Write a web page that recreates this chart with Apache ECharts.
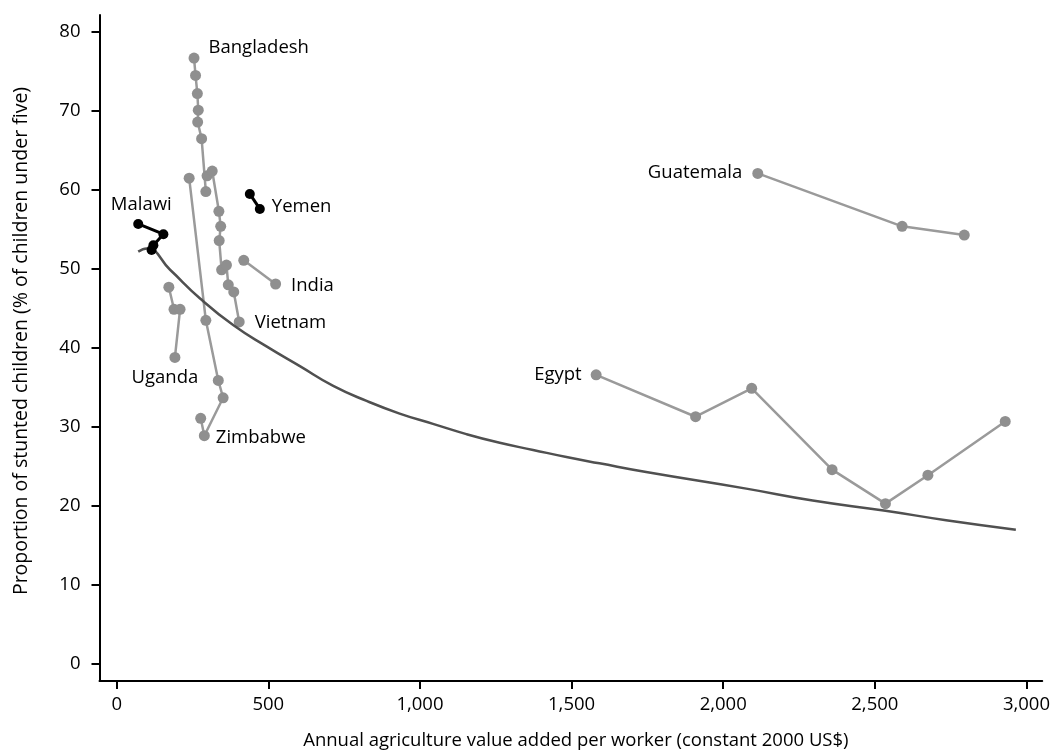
<!DOCTYPE html>
<html>
<head>
<meta charset="utf-8">
<script src="https://cdn.jsdelivr.net/npm/echarts@6/dist/echarts.min.js"></script>
<style>
  html, body { margin: 0; padding: 0; background: #fff; }
  #chart { width: 1053px; height: 756px; }
</style>
</head>
<body>
<div id="chart"></div>
<script>
// Stunting vs. agricultural productivity, country trajectories over time
const xTicks = [0, 500, 1000, 1500, 2000, 2500, 3000];
const yTicks = [0, 10, 20, 30, 40, 50, 60, 70, 80];

const bangladesh = [[255, 76.7], [260, 74.5], [266, 72.2], [269, 70.1], [267, 68.6], [280, 66.5], [294, 59.8]];
const vietnam = [[298, 61.8], [315, 62.4], [337, 57.3], [343, 55.4], [338, 53.6], [346, 49.9], [362, 50.5], [368, 48.0], [386, 47.1], [404, 43.3]];
const india = [[419, 51.1], [524, 48.1]];
const uganda = [[172, 47.7], [189, 44.9], [209, 44.9], [192, 38.8]];
const zimbabwe = [[239, 61.5], [294, 43.5], [335, 35.9], [351, 33.7], [289, 28.9], [277, 31.1]];
const guatemala = [[2114, 62.1], [2590, 55.4], [2795, 54.3]];
const egypt = [[1581, 36.6], [1909, 31.3], [2094, 34.9], [2359, 24.6], [2535, 20.3], [2675, 23.9], [2930, 30.7]];
const malawi = [[71, 55.7], [154, 54.4], [121, 53.0], [115, 52.4]];
const yemen = [[439, 59.5], [472, 57.6]];

// fitted relationship across all observations
const trendLine = [[71, 52.2], [99, 52.6], [176, 49.9], [274, 46.3], [384, 42.9], [494, 40.2], [604, 37.7],
  [714, 35.2], [824, 33.3], [933, 31.7], [1043, 30.4], [1153, 29.1], [1263, 28.0], [1373, 27.1],
  [1483, 26.2], [1592, 25.4], [1746, 24.3], [2076, 22.2], [2295, 20.7], [2535, 19.4], [2735, 18.2], [2965, 17.0]];

const FONT = 'Open Sans';
const FS = 18.5;
const GRAY_LINE = '#9a9a9a';
const GRAY_DOT = '#8f8f8f';

function countrySeries(name, data, labelIdx, pos, offset, dark) {
  return {
    name: name,
    type: 'line',
    z: dark ? 4 : 2,
    symbol: 'circle',
    symbolSize: dark ? 10 : 11,
    itemStyle: { color: dark ? '#000' : GRAY_DOT },
    lineStyle: { color: dark ? '#000' : GRAY_LINE, width: dark ? 3 : 2.5 },
    emphasis: { disabled: true },
    data: data.map((p, i) => i === labelIdx ? {
      value: p,
      label: {
        show: true, formatter: name, position: pos, offset: offset, distance: 5,
        color: '#000', fontFamily: FONT, fontSize: FS
      }
    } : { value: p })
  };
}

const chart = echarts.init(document.getElementById('chart'), null, { renderer: 'canvas' });
chart.setOption({
  animation: false,
  backgroundColor: '#fff',
  grid: { left: 99.5, right: 10, top: 15, bottom: 75 },
  xAxis: {
    type: 'value',
    min: -56.7, max: 3052,
    name: 'Annual agriculture value added per worker (constant 2000 US$)',
    nameLocation: 'middle', nameGap: 50,
    nameTextStyle: { fontFamily: FONT, fontSize: FS, color: '#000', padding: [0, 0, 0, 10] },
    axisLine: { onZero: false, lineStyle: { color: '#000', width: 2 } },
    axisTick: { customValues: xTicks, length: 8, lineStyle: { color: '#000', width: 2 } },
    axisLabel: {
      customValues: xTicks, margin: 14, color: '#000', fontFamily: FONT, fontSize: FS,
      formatter: v => v.toLocaleString('en-US')
    },
    splitLine: { show: false }
  },
  yAxis: {
    type: 'value',
    min: -2.15, max: 82.15,
    name: 'Proportion of stunted children (% of children under five)',
    nameLocation: 'middle', nameGap: 68,
    nameTextStyle: { fontFamily: FONT, fontSize: 19.5, color: '#000', padding: [0, 0, 0, 14] },
    axisLine: { onZero: false, lineStyle: { color: '#000', width: 2 } },
    axisTick: { customValues: yTicks, length: 8, lineStyle: { color: '#000', width: 2 } },
    axisLabel: { customValues: yTicks, margin: 19, color: '#000', fontFamily: FONT, fontSize: FS },
    splitLine: { show: false }
  },
  series: [
    countrySeries('Bangladesh', bangladesh, 0, 'right', [4, -10], false),
    countrySeries('Vietnam', vietnam, vietnam.length - 1, 'right', [5, 1], false),
    countrySeries('India', india, 1, 'right', [5, 2], false),
    countrySeries('Uganda', uganda, 3, 'bottom', [-10, 0], false),
    countrySeries('Zimbabwe', zimbabwe, 4, 'right', [1, 2], false),
    countrySeries('Guatemala', guatemala, 0, 'left', [-5, -1], false),
    countrySeries('Egypt', egypt, 0, 'left', [-4, 0], false),
    {
      name: 'Trend',
      type: 'line',
      z: 3,
      smooth: true,
      showSymbol: false,
      symbol: 'none',
      lineStyle: { color: '#505050', width: 2.5 },
      emphasis: { disabled: true },
      data: trendLine
    },
    countrySeries('Malawi', malawi, 0, 'top', [3, 0], true),
    countrySeries('Yemen', yemen, 1, 'right', [2, -2], true)
  ]
});
</script>
</body>
</html>
